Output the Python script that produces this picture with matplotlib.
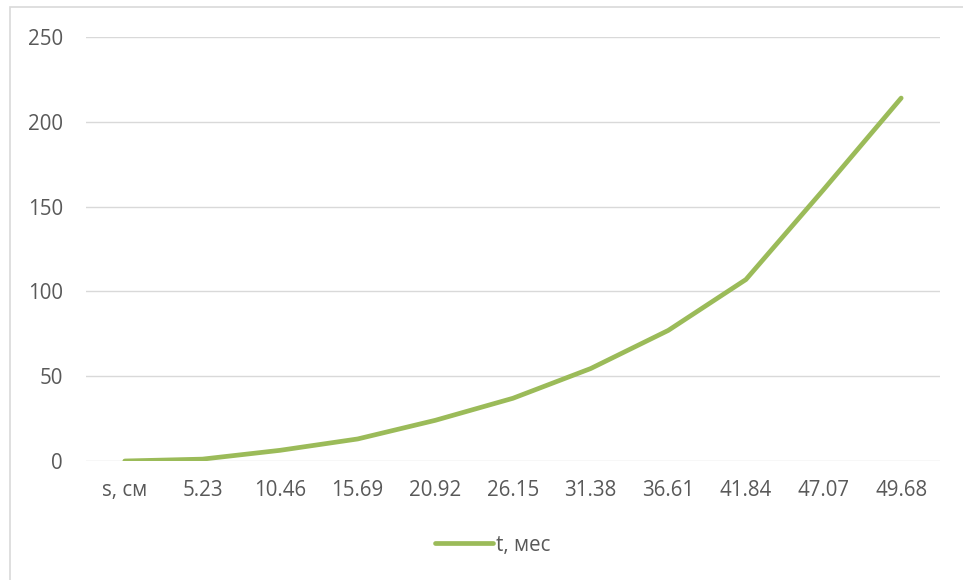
import matplotlib
matplotlib.use('Agg')
import matplotlib.pyplot as plt
from matplotlib.patches import Rectangle

plt.rcParams['font.family'] = ['Open Sans', 'DejaVu Sans']
plt.rcParams['font.size'] = 14.8

# данные: s, см  и  t, мес
categories = ['s, см', '5.23', '10.46', '15.69', '20.92', '26.15',
              '31.38', '36.61', '41.84', '47.07', '49.68']
t_values = [0, 1.1, 6.3, 13, 24, 37, 54.5, 77, 107, 160, 214]
y_ticks = [0, 50, 100, 150, 200, 250]

text_color = '#595959'
grid_color = '#D9D9D9'
line_color = '#9BBB59'

fig = plt.figure(figsize=(9.63, 5.8), dpi=100)
ax = fig.add_axes([86 / 963, 119 / 580, 854 / 963, 424 / 580])

x = list(range(len(categories)))
ax.plot(x, t_values, color=line_color, linewidth=3.4,
        solid_capstyle='round', solid_joinstyle='round', label='t, мес', zorder=3)

ax.set_xlim(-0.5, len(categories) - 0.5)
ax.set_ylim(0, 250)
ax.set_yticks(y_ticks)
ax.set_xticks(x)
ax.set_xticklabels(categories)

ax.grid(axis='y', color=grid_color, linewidth=1)
ax.set_axisbelow(True)
for side in ['top', 'right', 'left', 'bottom']:
    ax.spines[side].set_visible(False)
ax.tick_params(axis='both', length=0, colors=text_color)
ax.tick_params(axis='y', pad=16.5)
ax.tick_params(axis='x', pad=14)

leg = fig.legend(loc='center', bbox_to_anchor=(493 / 963, 35 / 580), frameon=False,
                 handlelength=2.8, handletextpad=0.15)
for txt in leg.get_texts():
    txt.set_color(text_color)

# рамка области диаграммы
fig.patches.append(Rectangle((10 / 963, -0.01), 1.0, 0.01 + 573 / 580,
                             transform=fig.transFigure, fill=False,
                             edgecolor=grid_color, linewidth=1.2))

fig.savefig('out.png', dpi=100)
